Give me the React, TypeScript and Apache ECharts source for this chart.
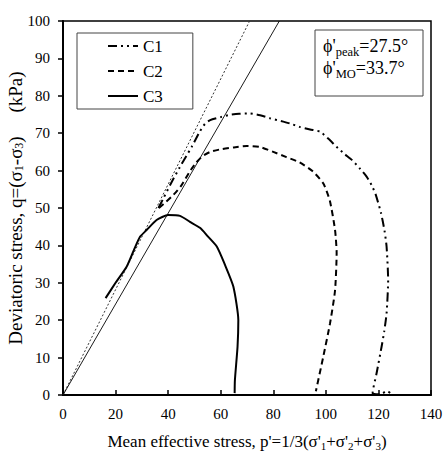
import React, { useEffect, useRef } from "react";
import * as echarts from "echarts";

// C1 (dash-dot)
const c1P = [36.3, 38.2, 41, 44.5, 47, 49, 52, 54, 56, 60, 63.5, 67, 71, 75, 78.7, 83.8, 86.3, 90, 94, 97.8, 101, 104, 107, 110, 113, 115.5, 117.5, 119, 121, 122.3, 123.1, 123.7, 123.1, 122.2, 121.2, 119.3, 117.8, 119.5, 121.5, 122.5, 123.5, 124.5, 125];
const c1Q = [50, 52.6, 56.5, 61, 64, 66.4, 70.4, 72.5, 73.5, 74.3, 74.9, 75.2, 75.3, 74.8, 74, 73.1, 72.6, 71.7, 71, 70.4, 68.5, 66.4, 64.5, 62.8, 60.5, 58.4, 56, 53.5, 48.6, 44, 39.7, 30.7, 21.8, 17, 12.9, 5.8, 0.5, 0.2, 0.3, 0.9, 1.0, 0.5, 0.3];
// C2 (dashed)
const c2P = [36.5, 39, 42, 45, 48, 50.5, 53, 56, 60, 65, 70, 75, 80, 85, 90, 95, 99, 101.5, 103.5, 104.1, 103.5, 101.6, 99, 96.2];
const c2Q = [50, 51.5, 53.5, 56, 59.5, 62, 63.8, 65, 65.7, 66.2, 66.6, 66.3, 65, 63.6, 62.2, 59.8, 56.6, 52, 44.1, 38, 28, 19.2, 10.2, 1];
// C3 (solid)
const c3P = [16.2, 20, 24.2, 27, 29.3, 31.8, 35.6, 40, 44.5, 48.3, 52.1, 55, 58.5, 61.5, 64.8, 66.7, 66.4, 65.4, 65.3];
const c3Q = [25.9, 30, 34.3, 38.8, 42.3, 44.1, 46.8, 48.1, 47.9, 46.3, 44.7, 42.5, 39.7, 35, 29, 20, 12.9, 4, 0.5];
// failure lines
const moLineP = [0, 71];
const moLineQ = [0, 100];
const peakLineP = [0, 82.3];
const peakLineQ = [0, 100];

const seriesNames = ["C1", "C2", "C3"];
const phiPeakText = ["ϕ'", "peak", "=27.5°"];
const phiMOText = ["ϕ'", "MO", "=33.7°"];

const pairs = (xs: number[], ys: number[]) => xs.map((x, i) => [x, ys[i]]);

const FONT = "'Liberation Serif', 'Times New Roman', serif";

export default function App() {
  const ref = useRef<HTMLDivElement>(null);
  useEffect(() => {
    if (!ref.current) return;
    const chart = echarts.init(ref.current, undefined, { renderer: "svg" });
    const subRich = {
      s: { fontSize: 11, fontFamily: FONT, color: "#000", verticalAlign: "bottom", lineHeight: 10 },
    };
    const subRichY = {
      s: { fontSize: 12, fontFamily: FONT, color: "#000", verticalAlign: "bottom", lineHeight: 10 },
    };
    const annRich = {
      m: { fontSize: 18, fontFamily: FONT, color: "#000", lineHeight: 24 },
      s: { fontSize: 12.5, fontFamily: FONT, color: "#000", lineHeight: 12, verticalAlign: "bottom" },
    };
    chart.setOption({
      animation: false,
      backgroundColor: "#fff",
      textStyle: { fontFamily: FONT, color: "#000" },
      grid: {
        left: 63,
        top: 21,
        right: 15,
        bottom: 56,
        outerBoundsMode: "none",
        containLabel: false,
        show: true,
        borderColor: "#000",
        borderWidth: 1.5,
        backgroundColor: "transparent",
      },
      legend: {
        data: seriesNames,
        orient: "vertical",
        left: 77,
        top: 33,
        padding: [3, 30, 3, 30],
        itemGap: 5,
        itemWidth: 30,
        itemHeight: 14,
        borderColor: "#444",
        borderWidth: 1,
        backgroundColor: "#fff",
        itemStyle: { opacity: 0 },
        textStyle: { fontFamily: FONT, fontSize: 17, color: "#000", lineHeight: 20 },
      },
      xAxis: {
        type: "value",
        min: 0,
        max: 140,
        interval: 20,
        name: "Mean effective stress, p'=1/3(σ'{s|1}+σ'{s|2}+σ'{s|3})",
        nameLocation: "middle",
        nameGap: 36,
        nameMoveOverlap: false,
        nameTextStyle: { fontFamily: FONT, fontSize: 17, color: "#000", lineHeight: 20, rich: subRich },
        axisLine: { lineStyle: { color: "#000", width: 2 } },
        axisTick: { inside: true, length: 5, lineStyle: { color: "#000", width: 1.5 } },
        axisLabel: { fontFamily: FONT, fontSize: 15, color: "#000", margin: 11 },
        splitLine: { show: false },
      },
      yAxis: {
        type: "value",
        min: 0,
        max: 100,
        interval: 10,
        name: "Deviatoric stress, q=(σ{s|1}-σ{s|3})     (kPa)",
        nameLocation: "middle",
        nameGap: 38,
        nameMoveOverlap: false,
        nameTextStyle: { fontFamily: FONT, fontSize: 19, color: "#000", lineHeight: 20, rich: subRichY },
        axisLine: { lineStyle: { color: "#000", width: 2 } },
        axisTick: { inside: false, length: 5, lineStyle: { color: "#000", width: 1.5 } },
        axisLabel: { fontFamily: FONT, fontSize: 15, color: "#000", margin: 13 },
        splitLine: { show: false },
      },
      series: [
        {
          name: "phiMO",
          type: "line",
          data: pairs(moLineP, moLineQ),
          symbol: "none",
          lineStyle: { color: "#333", width: 1, type: [2, 2] },
          z: 1,
        },
        {
          name: "phiPeak",
          type: "line",
          data: pairs(peakLineP, peakLineQ),
          symbol: "none",
          lineStyle: { color: "#000", width: 0.9, type: "solid" },
          z: 1,
        },
        {
          name: "C1",
          type: "line",
          data: pairs(c1P, c1Q),
          symbol: "none",
          smooth: 0.2,
          lineStyle: { color: "#000", width: 2, type: [9, 4, 2, 4, 2, 4] },
          itemStyle: { color: "#000" },
        },
        {
          name: "C2",
          type: "line",
          data: pairs(c2P, c2Q),
          symbol: "none",
          smooth: 0.2,
          lineStyle: { color: "#000", width: 2, type: [6, 4] },
          itemStyle: { color: "#000" },
        },
        {
          name: "C3",
          type: "line",
          data: pairs(c3P, c3Q),
          symbol: "none",
          smooth: 0.2,
          lineStyle: { color: "#000", width: 2, type: "solid" },
          itemStyle: { color: "#000" },
        },
      ],
      graphic: [
        {
          type: "rect",
          shape: { x: 315, y: 30, width: 108, height: 66 },
          style: { fill: "#fff", stroke: "#444", lineWidth: 1 },
          z: 10,
        },
        {
          type: "text",
          x: 323,
          y: 46,
          style: {
            text: `{m|${phiPeakText[0]}}{s|${phiPeakText[1]}}{m|${phiPeakText[2]}}`,
            rich: annRich,
            verticalAlign: "middle",
          },
          z: 11,
        },
        {
          type: "text",
          x: 323,
          y: 68,
          style: {
            text: `{m|${phiMOText[0]}}{s|${phiMOText[1]}}{m|${phiMOText[2]}}`,
            rich: annRich,
            verticalAlign: "middle",
          },
          z: 11,
        },
      ],
    });
    return () => chart.dispose();
  }, []);
  return <div ref={ref} style={{ width: 446, height: 451, position: "absolute", left: 0, top: 0 }} />;
}
